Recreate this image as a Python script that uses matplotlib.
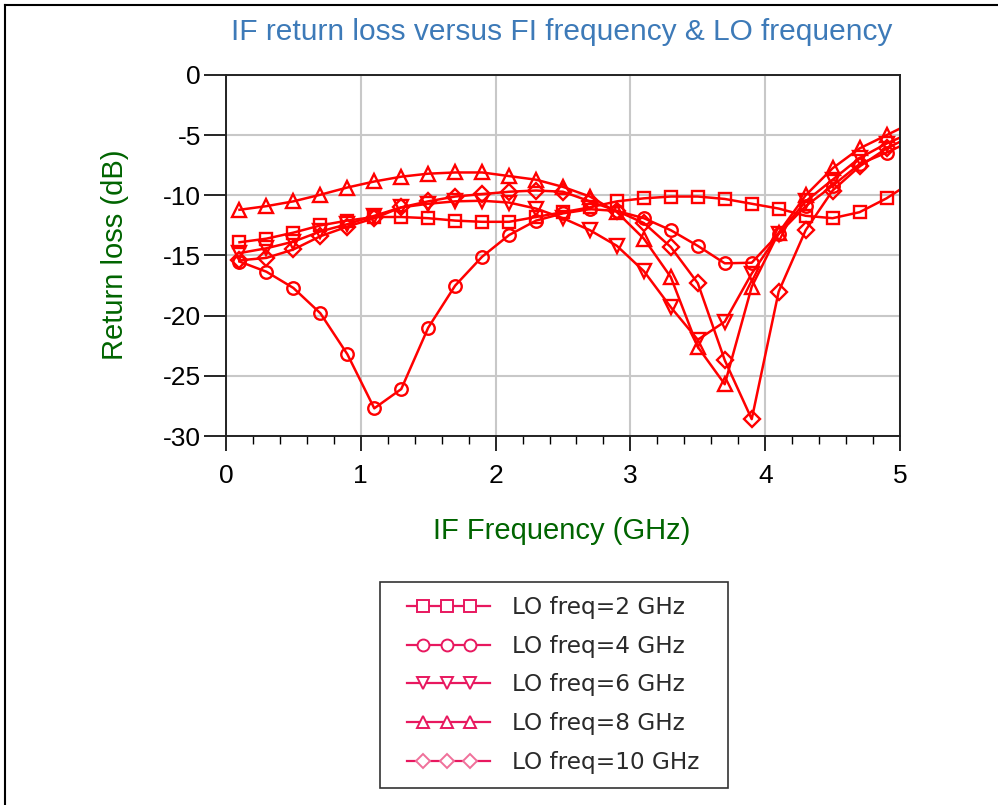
import matplotlib
matplotlib.use("Agg")
import matplotlib.pyplot as plt
from matplotlib.lines import Line2D
from matplotlib.legend_handler import HandlerLine2D
import numpy as np

# ---------------- data ----------------
if_freq = [0.1, 0.3, 0.5, 0.7, 0.9, 1.1, 1.3, 1.5, 1.7, 1.9, 2.1, 2.3, 2.5,
           2.7, 2.9, 3.1, 3.3, 3.5, 3.7, 3.9, 4.1, 4.3, 4.5, 4.7, 4.9, 5.1]

lo2 = [-13.9, -13.6, -13.1, -12.5, -12.1, -11.8, -11.8, -11.9, -12.1, -12.2,
       -12.2, -11.8, -11.4, -11.0, -10.5, -10.25, -10.1, -10.1, -10.3, -10.7,
       -11.1, -11.7, -11.9, -11.4, -10.25, -8.8]
lo4 = [-15.5, -16.35, -17.7, -19.8, -23.2, -27.7, -26.1, -21.0, -17.5, -15.1,
       -13.3, -12.1, -11.5, -11.15, -11.3, -11.9, -12.9, -14.2, -15.65, -15.6,
       -13.2, -10.9, -9.2, -7.4, -6.45, -5.4]
lo6 = [-14.8, -14.4, -13.85, -13.0, -12.4, -11.7, -11.0, -10.7, -10.5, -10.45,
       -10.6, -11.1, -11.9, -12.9, -14.2, -16.3, -19.3, -22.0, -20.5, -16.5,
       -13.2, -10.5, -8.7, -6.9, -5.7, -4.7]
lo8 = [-11.2, -10.9, -10.5, -9.95, -9.35, -8.85, -8.45, -8.2, -8.1, -8.1,
       -8.4, -8.7, -9.3, -10.1, -11.4, -13.6, -16.8, -22.6, -25.7, -17.6,
       -13.1, -10.0, -7.75, -6.1, -5.0, -3.9]
lo10 = [-15.4, -15.2, -14.5, -13.4, -12.6, -11.9, -11.0, -10.5, -10.1, -9.9,
        -9.7, -9.6, -9.7, -10.5, -11.3, -12.3, -14.3, -17.3, -23.7, -28.6,
        -18.0, -12.9, -9.6, -7.6, -6.1, -5.0]

series = [lo2, lo4, lo6, lo8, lo10]
labels = ["LO freq=2 GHz", "LO freq=4 GHz", "LO freq=6 GHz",
          "LO freq=8 GHz", "LO freq=10 GHz"]
markers = ["s", "o", "v", "^", "D"]
msizes = [9, 9, 9.5, 9.5, 8]

x_ticks = [0, 1, 2, 3, 4, 5]
y_ticks = [0, -5, -10, -15, -20, -25, -30]

title = "IF return loss versus FI frequency & LO frequency"
xlabel = "IF Frequency (GHz)"
ylabel = "Return loss (dB)"

# ---------------- figure ----------------
W, H = 998, 805
fig = plt.figure(figsize=(W / 100, H / 100), dpi=100)
fig.patch.set_facecolor("white")

def fx(px):
    return px / W

def fy(py):
    return 1 - py / H

SANS = ["Liberation Sans", "DejaVu Sans"]

ax = fig.add_axes([fx(226), fy(436), fx(900) - fx(226), fy(75) - fy(436)])

for vals, m, ms in zip(series, markers, msizes):
    ax.plot(if_freq, vals, color="#ff0000", lw=1.8, marker=m, ms=ms,
            mfc="none", mec="#ff0000", mew=1.7, clip_on=True)

ax.set_xlim(0, 5)
ax.set_ylim(-30, 0)
ax.set_xticks(x_ticks)
ax.set_yticks(y_ticks)
ax.set_xticks(np.arange(0, 5.01, 0.2), minor=True)
ax.set_xticklabels([str(t) for t in x_ticks], fontsize=19, family=SANS)
ax.set_yticklabels([str(t) for t in y_ticks], fontsize=19, family=SANS)
ax.tick_params(axis="x", which="major", length=11, width=1.2, direction="out",
               pad=9, colors="black")
ax.tick_params(axis="x", which="minor", length=6, width=1.0, direction="out")
ax.tick_params(axis="y", which="major", length=16, width=1.2, direction="out",
               pad=2)
ax.grid(True, which="major", color="#c8c8c8", lw=1.5)
ax.set_axisbelow(True)
for sp in ax.spines.values():
    sp.set_color("#222222")
    sp.set_linewidth(1.4)

# axis labels
fig.text(fx(562), fy(531), xlabel, color="#006400", fontsize=21,
         family=SANS, ha="center", va="center")
fig.text(fx(115), fy(255), ylabel, color="#006400", fontsize=21,
         family=SANS, ha="center", va="center", rotation=90)

# title
fig.text(fx(562), fy(32), title, color="#3d7ab8", fontsize=21.5,
         family=SANS, ha="center", va="center")


# legend: line inset from the handle box start, three markers on it
class FullLineHandler(HandlerLine2D):
    def create_artists(self, legend, orig_handle, xdescent, ydescent,
                       width, height, fontsize, trans):
        x0 = -xdescent
        y = (height - ydescent) / 2
        xl = [x0 + 0.56 * fontsize, x0 + width]
        xm = [x0 + 1.25 * fontsize, x0 + 2.28 * fontsize, x0 + 3.3 * fontsize]
        line = Line2D(xl, [y, y], color=orig_handle.get_color(),
                      lw=orig_handle.get_linewidth())
        mk = Line2D(xm, [y] * 3, ls="none", marker=orig_handle.get_marker(),
                    ms=orig_handle.get_markersize(), mfc="white",
                    mec=orig_handle.get_markeredgecolor(),
                    mew=orig_handle.get_markeredgewidth())
        line.set_transform(trans)
        mk.set_transform(trans)
        return [line, mk]


leg_col = "#e8185f"
handles = []
for m, ms in zip(markers, msizes):
    c = leg_col if m != "D" else "#f0709a"
    handles.append(Line2D([], [], color=leg_col, lw=1.6, marker=m,
                          ms=ms * 0.95, mfc="none", mec=c, mew=1.4))
leg = fig.legend(handles, labels, loc="upper left", mode="expand",
                 bbox_to_anchor=(fx(380), fy(790), fx(728) - fx(380),
                                 fy(582) - fy(790)),
                 bbox_transform=fig.transFigure,
                 numpoints=3, handlelength=4.14, handletextpad=0.95,
                 borderpad=0.6, labelspacing=0.68, borderaxespad=0,
                 fancybox=False, framealpha=1, edgecolor="#333333",
                 prop={"family": ["DejaVu Sans"], "size": 16.7},
                 handler_map={Line2D: FullLineHandler()})
leg.get_frame().set_linewidth(1.2)
for t in leg.get_texts():
    t.set_color("#2a2a2a")

# outer border (top and left)
fig.add_artist(Line2D([fx(5), fx(998)], [fy(5), fy(5)], color="black", lw=1.5,
                      transform=fig.transFigure))
fig.add_artist(Line2D([fx(5), fx(5)], [fy(5), fy(805)], color="black", lw=1.5,
                      transform=fig.transFigure))

fig.savefig("out.png", dpi=100, facecolor="white")
